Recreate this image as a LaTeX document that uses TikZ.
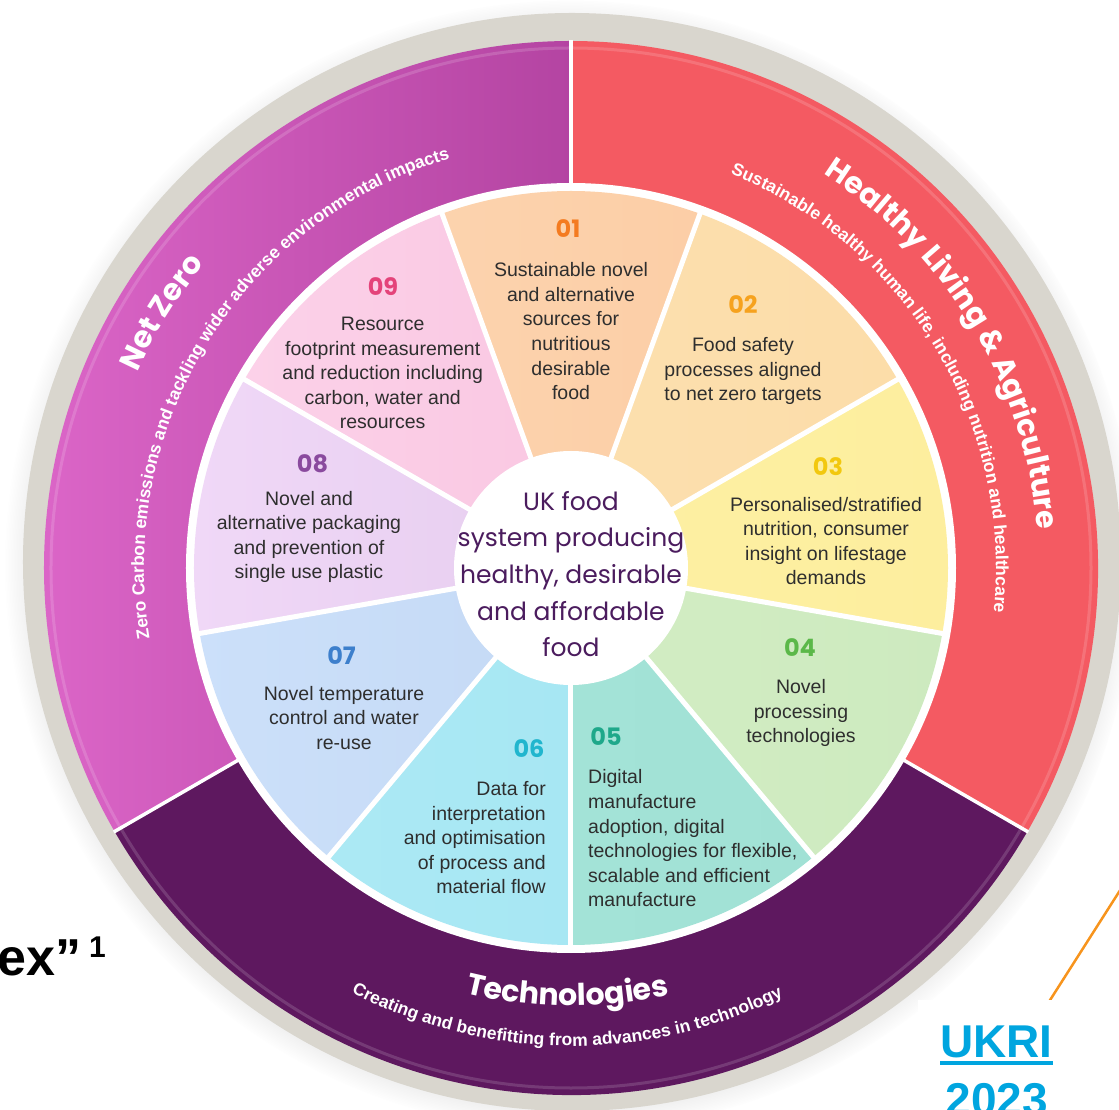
\documentclass[tikz,border=0pt]{standalone}
\usepackage{fontspec}
\setmainfont{Liberation Sans}
\newfontfamily\popfont{Poppins}
\newfontfamily\bodyfont{Liberation Sans}
\newfontfamily\arcsubfont{Liberation Sans}
\usetikzlibrary{decorations.text,shadows}

% ring colours
\definecolor{rimgray}{HTML}{D9D6CE}
\definecolor{nzlight}{HTML}{DC66C8}
\definecolor{nzdark}{HTML}{B444A2}
\definecolor{hlared}{HTML}{F45A62}
\definecolor{techpurple}{HTML}{5E185F}
% wedge fills, lighter (left) and deeper (right) tones
\definecolor{wAl}{HTML}{FDD8B5}\definecolor{wAr}{HTML}{FBC99F}
\definecolor{wBl}{HTML}{FDE3B5}\definecolor{wBr}{HTML}{FCDCA8}
\definecolor{wCl}{HTML}{FEF2A8}\definecolor{wCr}{HTML}{FDEE9E}
\definecolor{wDl}{HTML}{D8F0C8}\definecolor{wDr}{HTML}{CDEABF}
\definecolor{wEl}{HTML}{A6E6DA}\definecolor{wEr}{HTML}{A0E0D4}
\definecolor{wFl}{HTML}{AEEAF5}\definecolor{wFr}{HTML}{A0E4F1}
\definecolor{wGl}{HTML}{CCE0FA}\definecolor{wGr}{HTML}{BDD3F0}
\definecolor{wHl}{HTML}{F0D8F7}\definecolor{wHr}{HTML}{DDC3E7}
\definecolor{wIl}{HTML}{FCD3EA}\definecolor{wIr}{HTML}{F7BCDA}
% wedge numbers
\definecolor{nA}{HTML}{F47B20}
\definecolor{nB}{HTML}{F6A21E}
\definecolor{nC}{HTML}{F2C80F}
\definecolor{nD}{HTML}{5BB849}
\definecolor{nE}{HTML}{1EA88A}
\definecolor{nF}{HTML}{21B6CE}
\definecolor{nG}{HTML}{3D7FCC}
\definecolor{nH}{HTML}{8A4A9E}
\definecolor{nI}{HTML}{E4437A}
% text
\definecolor{hubtext}{HTML}{4B1C5E}
\definecolor{bodytext}{HTML}{2E2E2E}
\definecolor{ukriblue}{HTML}{00A5DF}
\definecolor{orangeline}{HTML}{F7941D}

\begin{document}
\begin{tikzpicture}[x=1pt,y=1pt,
  wedgetext/.style={inner sep=0pt, align=center, text=bodytext,
    font=\bodyfont\fontsize{19.5}{24.6}\selectfont},
  wedgenum/.style={inner sep=0pt, font=\popfont\bfseries\fontsize{24}{24}\selectfont},
  arctitle/.style={decorate, decoration={text along path, text align=center,
    text={|\popfont\bfseries\fontsize{30}{30}\selectfont\color{white}|#1}}},
  arcsub/.style={decorate, decoration={text along path, text align=center,
    text={|\arcsubfont\bfseries\fontsize{17.5}{17.5}\selectfont\color{white}|#1}}},
  bigbold/.style={inner sep=0pt, font=\bfseries\fontsize{46}{46}\selectfont, text=ukriblue},
]
\useasboundingbox (-571,-542) rectangle (548,568);

% outer rim with soft shadow
\fill[rimgray, circular drop shadow={shadow scale=1.03, shadow xshift=-1pt,
  shadow yshift=-3pt, opacity=0.45}] (1,6) circle (549);

% three theme sectors
\begin{scope}
  \clip (0,0) -- (90:527) arc[start angle=90, end angle=210, radius=527] -- cycle;
  \shade[left color=nzlight, right color=nzdark] (-540,-300) rectangle (0,540);
\end{scope}
\fill[hlared] (0,0) -- (-30:527) arc[start angle=-30, end angle=90, radius=527] -- cycle;
\fill[techpurple] (0,0) -- (210:527) arc[start angle=210, end angle=330, radius=527] -- cycle;
\draw[white, opacity=0.15, line width=3] (0,0) circle (520);

% gap between themes and challenges
\fill[white] (0,0) circle (385);

% nine challenge wedges
\foreach \k/\wc in {1/wA,2/wB,3/wC,4/wD,5/wE,6/wF,7/wG,8/wH,9/wI}{
  \pgfmathsetmacro\sa{110-40*\k}
  \pgfmathsetmacro\ea{150-40*\k}
  \begin{scope}
    \clip (0,0) -- (\sa:377) arc[start angle=\sa, end angle=\ea, radius=377] -- cycle;
    \shade[left color=\wc l, right color=\wc r] (-380,-380) rectangle (380,380);
  \end{scope}
}
\foreach \a in {70,30,-10,-50,-90,-130,-170,-210,-250}
  \draw[white, line width=5] (0,0) -- (\a:381);
\foreach \a in {90,210,330}
  \draw[white, line width=3.5] (\a:380) -- (\a:528);

% hub
\fill[white] (0,0) circle (117);
\node[inner sep=0pt, align=center, text=hubtext,
  font=\popfont\fontsize{25}{36.7}\selectfont] (hub) at (0,-6)
  {UK food\\system producing\\healthy, desirable\\and affordable\\food};

% challenge numbers
\node[wedgenum, text=nA] (n01) at (-3,339.5) {01};
\node[wedgenum, text=nB] (n02) at (172,263) {02};
\node[wedgenum, text=nC] (n03) at (257,101) {03};
\node[wedgenum, text=nD] (n04) at (229,-80) {04};
\node[wedgenum, text=nE] (n05) at (35,-169) {05};
\node[wedgenum, text=nF] (n06) at (-42,-181) {06};
\node[wedgenum, text=nG] (n07) at (-229.5,-88) {07};
\node[wedgenum, text=nH] (n08) at (-258.5,104) {08};
\node[wedgenum, text=nI] (n09) at (-188,281) {09};

% challenge descriptions
\node[wedgetext] (t01) at (0,236.7)
  {Sustainable novel\\and alternative\\sources for\\nutritious\\desirable\\food};
\node[wedgetext] (t02) at (172,197)
  {Food safety\\processes aligned\\to net zero targets};
\node[wedgetext] (t03) at (255,27)
  {Personalised/stratified\\nutrition, consumer\\insight on lifestage\\demands};
\node[wedgetext] (t04) at (230,-145)
  {Novel\\processing\\technologies};
\node[wedgetext, align=left, anchor=west] (t05) at (17,-270.4)
  {Digital\\manufacture\\adoption, digital\\technologies for flexible,\\scalable and efficient\\manufacture};
\node[wedgetext, align=right, anchor=east] (t06) at (-25,-269.7)
  {Data for\\interpretation\\and optimisation\\of process and\\material flow};
\node[wedgetext] (t07) at (-227,-150)
  {Novel temperature\\control and water\\re-use};
\node[wedgetext] (t08) at (-262,31)
  {Novel and\\alternative packaging\\and prevention of\\single use plastic};
\node[wedgetext] (t09) at (-188.3,195)
  {Resource\\footprint measurement\\and reduction including\\carbon, water and\\resources};

% theme titles and subtitles along the ring
\path[arctitle={Net Zero}] (178:476) arc[start angle=178, end angle=118, radius=476];
\path[arcsub={Zero Carbon emissions and tackling wider adverse environmental impacts}]
  (218:427) arc[start angle=218, end angle=78, radius=427];
\path[arctitle={Healthy Living {\&} Agriculture}]
  (80:468) arc[start angle=80, end angle=-18, radius=468];
\path[arcsub={Sustainable healthy human life, including nutrition and healthcare}]
  (101:425) arc[start angle=101, end angle=-39, radius=425];
\path[arctitle={Technologies}]
  (239.5:438) arc[start angle=239.5, end angle=299.5, radius=438];
\path[arcsub={Creating and benefitting from advances in technology}]
  (214.5:478) arc[start angle=214.5, end angle=324.5, radius=478];

% source note
\coordinate (lineA) at (474,-440);
\coordinate (lineB) at (562,-302);
\draw[orangeline, line width=2.5] (lineA) -- (lineB);
\fill[white] (347,-432) rectangle (506,-550);
\node[bigbold, anchor=base] (ukri) at (425.5,-489) {UKRI};
\draw[ukriblue, line width=4] ([yshift=-6pt]ukri.base west) -- ([yshift=-6pt]ukri.base east);
\node[bigbold, anchor=base] (year) at (426,-547) {2023};

% fragment of surrounding slide text
\node[inner sep=0pt, anchor=base west, font=\bfseries\fontsize{52}{52}\selectfont] (exq)
  at (-574,-407) {ex”};
\node[inner sep=0pt, anchor=base, font=\bfseries\fontsize{30}{30}\selectfont] (fnmark)
  at (-473.5,-389) {1};
\end{tikzpicture}
\end{document}
